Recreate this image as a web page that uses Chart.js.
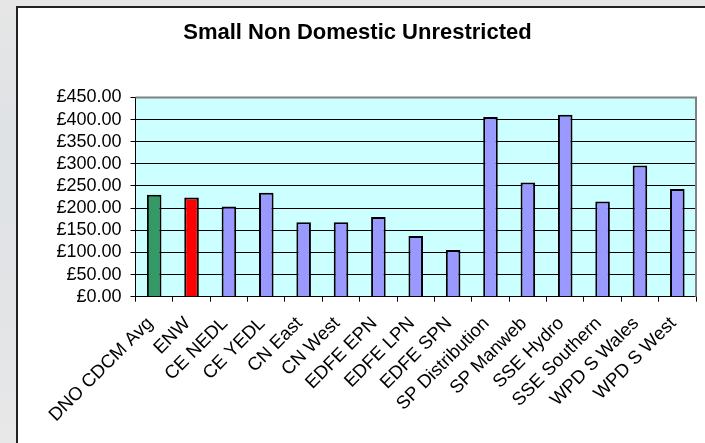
<!DOCTYPE html>
<html>
<head>
<meta charset="utf-8">
<script src="https://cdn.jsdelivr.net/npm/chart.js@4/dist/chart.umd.min.js"></script>
<style>
  html, body { margin: 0; padding: 0; }
  body { width: 705px; height: 443px; overflow: hidden; position: relative;
         background: linear-gradient(to bottom, #e6e6e6 0%, #dfe2e5 30%, #e2e4e6 70%, #e8e8e8 100%); }
  #frame { position: absolute; left: 16px; top: 6px; width: 700px; height: 460px;
           background: #ffffff; border-left: 2px solid #222; border-top: 2px solid #222; }
  #c { position: absolute; left: 0; top: 0; }
</style>
</head>
<body>
<div id="frame"></div>
<canvas id="c" width="705" height="443"></canvas>
<script>
const categories = ["DNO CDCM Avg", "ENW", "CE NEDL", "CE YEDL", "CN East", "CN West",
  "EDFE EPN", "EDFE LPN", "EDFE SPN", "SP Distribution", "SP Manweb", "SSE Hydro",
  "SSE Southern", "WPD S Wales", "WPD S West"];
const values = [230, 224, 203.5, 234.5, 168, 168, 180, 137, 105.5, 406, 258, 411, 215, 296, 243];
const barColors = ["#339966", "#ff0000", "#9999ff", "#9999ff", "#9999ff", "#9999ff", "#9999ff",
  "#9999ff", "#9999ff", "#9999ff", "#9999ff", "#9999ff", "#9999ff", "#9999ff", "#9999ff"];
const yTicks = [0, 50, 100, 150, 200, 250, 300, 350, 400, 450];
const titleText = "Small Non Domestic Unrestricted";

const FONT = "'Liberation Sans', Arial, sans-serif";

const plotDecor = {
  id: 'plotDecor',
  beforeDraw(chart) {
    const a = chart.chartArea, ctx = chart.ctx;
    ctx.save();
    ctx.fillStyle = '#ccffff';
    ctx.fillRect(a.left, a.top, a.right - a.left, a.bottom - a.top);
    ctx.restore();
  },
  afterDraw(chart) {
    const a = chart.chartArea, ctx = chart.ctx;
    ctx.save();
    ctx.strokeStyle = '#808080';
    ctx.lineWidth = 2;
    ctx.beginPath();
    ctx.moveTo(a.left, a.top);
    ctx.lineTo(a.right, a.top);
    ctx.lineTo(a.right, a.bottom);
    ctx.stroke();
    ctx.restore();
  }
};

new Chart(document.getElementById('c'), {
  type: 'bar',
  data: {
    labels: categories,
    datasets: [{
      data: values,
      backgroundColor: barColors,
      borderColor: '#000000',
      borderWidth: 2,
      barPercentage: 0.39,
      categoryPercentage: 1.0
    }]
  },
  options: {
    responsive: false,
    animation: false,
    layout: { padding: { left: 19, right: 9, top: 0, bottom: 0 } },
    plugins: {
      legend: { display: false },
      tooltip: { enabled: false },
      title: {
        display: true,
        text: titleText,
        color: '#000000',
        font: { family: FONT, size: 22, weight: 'bold', lineHeight: 1.2 },
        padding: { top: 20, bottom: 51 }
      }
    },
    scales: {
      x: {
        afterFit(scale) { scale.height = 146.3; },
        grid: { display: true, drawOnChartArea: false, drawTicks: true, tickLength: 5,
                offset: true, color: '#000000', lineWidth: 1 },
        border: { display: true, color: '#000000', width: 1 },
        ticks: { autoSkip: false, minRotation: 45, maxRotation: 45, padding: 11, labelOffset: -4,
                 color: '#000000', font: { family: FONT, size: 18.5 } }
      },
      y: {
        min: 0, max: 450,
        afterFit(scale) { scale.width = 116.5; },
        afterBuildTicks(scale) { scale.ticks = yTicks.map(v => ({ value: v })); },
        grid: { color: '#000000', lineWidth: 1, tickLength: 5, tickColor: '#000000' },
        border: { display: true, color: '#000000', width: 1 },
        ticks: { autoSkip: false, padding: 9, color: '#000000', font: { family: FONT, size: 18 },
                 callback: (v) => '£' + Number(v).toFixed(2) }
      }
    }
  },
  plugins: [plotDecor]
});
</script>
</body>
</html>
